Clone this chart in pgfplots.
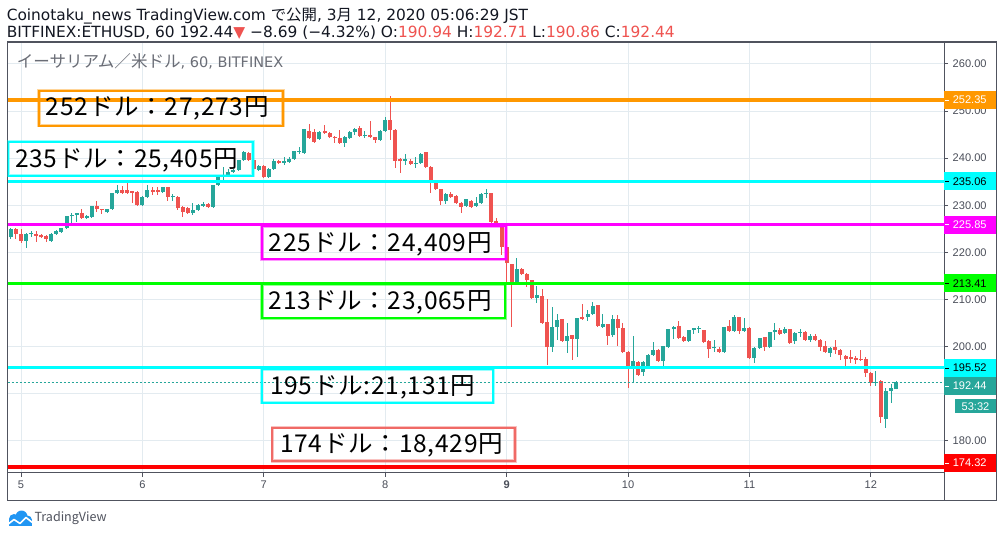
\documentclass[border=0pt]{standalone}
\usepackage{fontspec}
\setmainfont{Noto Sans CJK JP}
\newfontfamily\lab{Liberation Sans}
\newfontfamily\dv{DejaVu Sans}
\newfontfamily\jp{Noto Sans CJK JP}
\newfontfamily\bxf[LetterSpace=3]{Noto Sans CJK JP}
\usepackage{pgfplots}
\usepackage{pgfplotstable}
\pgfplotsset{compat=1.18}

\definecolor{upc}{HTML}{26A69A}
\definecolor{dnc}{HTML}{EF5350}
\definecolor{gridc}{HTML}{E3EBF0}
\definecolor{axc}{HTML}{50535E}
\definecolor{tickc}{HTML}{4A4E59}
\definecolor{txt}{HTML}{131722}
\definecolor{orng}{HTML}{FF9800}
\definecolor{cyn}{HTML}{00FFFF}
\definecolor{mgn}{HTML}{FF00FF}
\definecolor{lim}{HTML}{00FF00}
\definecolor{rd}{HTML}{FF0000}
\definecolor{salmon}{HTML}{F06A66}
\definecolor{tvblue}{HTML}{2196F3}

% hourly candles, t = hours after Mar 5 00:00
\pgfplotstableread{
t o hi lo c
-2 223.2 225.1 222.9 224.9
-1 224.9 225.1 222.9 224.0
0 224.0 224.9 222.0 222.4
1 222.4 224.2 221.0 224.0
2 224.0 224.5 223.3 224.1
3 223.9 224.5 222.1 223.5
4 223.6 223.9 223.0 223.2
5 223.4 223.6 222.3 222.8
6 222.4 224.1 222.3 224.0
7 224.0 224.7 223.9 224.6
8 224.4 225.2 224.3 225.1
9 225.1 227.8 225.0 227.7
10 227.7 228.3 226.2 227.8
11 227.9 228.4 226.5 228.3
12 228.4 229.3 227.3 227.4
13 227.4 227.9 227.0 227.7
14 227.6 229.9 227.5 229.8
15 229.8 231.0 228.5 229.2
16 229.2 229.3 228.1 229.0
17 228.5 229.3 228.4 229.2
18 229.2 232.6 229.1 232.5
19 232.5 234.3 232.4 233.2
20 233.2 234.0 232.6 232.7
21 233.2 235.2 232.5 232.6
22 233.0 233.1 230.4 232.7
23 232.9 233.0 230.0 230.1
24 230.1 231.9 230.0 231.8
25 231.8 234.3 231.7 233.2
26 233.2 233.8 232.2 232.9
27 233.2 233.8 232.2 232.9
28 232.9 233.9 232.8 233.8
29 233.8 233.9 230.8 231.8
30 231.7 232.4 230.8 231.8
31 231.7 231.9 229.1 229.4
32 229.6 229.8 227.6 228.6
33 229.4 229.6 228.3 228.4
34 228.4 230.4 227.9 229.1
35 229.1 230.2 229.0 230.0
36 229.9 230.6 229.6 230.3
37 230.3 230.5 229.4 229.7
38 229.7 234.4 229.5 234.3
39 234.3 236.2 234.1 236.1
40 235.9 238.2 235.4 236.4
41 236.4 237.8 236.2 237.1
42 237.1 237.6 236.8 237.5
43 237.5 239.7 237.3 239.6
44 239.6 241.5 239.4 241.4
45 241.2 241.4 239.4 239.6
46 239.6 239.8 237.5 237.6
47 237.5 238.5 237.3 238.3
48 238.3 238.5 235.7 235.9
49 236.0 238.0 235.8 237.8
50 237.8 239.8 237.6 239.4
51 239.4 239.6 238.8 239.0
52 239.0 240.3 238.6 239.3
53 239.1 240.3 238.9 239.9
54 239.9 241.6 239.8 241.5
55 241.3 242.4 240.9 241.5
56 241.1 246.2 240.9 246.1
57 245.8 247.2 244.0 244.2
58 245.6 246.1 243.2 243.5
59 244.0 245.7 243.8 245.6
60 245.8 247.1 245.2 245.3
61 245.3 245.6 244.2 244.4
62 244.6 244.8 243.2 244.4
63 244.2 246.0 243.2 243.3
64 243.3 244.7 242.4 244.6
65 244.2 245.7 244.0 245.6
66 245.6 246.4 244.9 246.3
67 246.5 246.8 244.6 244.8
68 244.8 245.8 244.2 245.0
69 244.9 247.9 244.3 244.4
70 244.4 244.5 243.3 243.9
71 243.9 245.9 243.8 245.8
72 245.8 248.7 245.6 248.1
73 248.1 253.1 243.9 246.0
74 246.0 246.2 238.0 239.5
75 239.8 240.0 236.9 239.3
76 239.5 240.9 238.5 239.9
77 239.5 239.8 238.6 238.8
78 238.8 240.2 238.0 239.0
79 238.9 241.0 238.7 240.9
80 241.3 241.4 238.0 238.2
81 238.2 238.4 232.7 234.7
82 234.9 235.2 233.2 233.4
83 233.4 233.5 230.0 230.8
84 230.8 232.5 230.2 232.4
85 232.3 232.9 231.7 231.8
86 232.0 232.1 230.3 230.4
87 230.4 230.6 228.3 229.7
88 229.8 231.4 229.6 231.3
89 230.9 231.1 229.4 229.7
90 229.8 231.8 229.7 230.4
91 230.4 232.5 230.2 232.4
92 232.3 233.4 231.5 232.5
93 232.5 232.6 226.3 226.5
94 226.7 227.2 225.4 226.0
95 225.5 226.2 219.4 221.1
96 221.1 221.2 213.8 217.7
97 217.5 217.6 204.2 213.2
98 213.2 218.7 213.0 216.5
99 216.5 216.6 215.2 215.4
100 215.5 215.6 212.7 214.1
101 214.1 214.2 210.3 210.4
102 210.4 212.8 209.2 210.9
103 210.7 212.3 204.9 205.1
104 205.2 210.2 196.1 200.0
105 200.0 208.3 198.9 204.2
106 204.2 207.0 201.4 205.6
107 205.8 205.9 201.0 201.2
108 201.2 204.9 198.7 202.3
109 202.4 202.5 197.1 201.7
110 201.7 206.1 197.7 206.0
111 206.2 209.0 205.6 205.8
112 206.2 207.7 205.5 207.0
113 207.0 209.5 206.9 208.6
114 208.8 208.9 204.3 204.4
115 204.2 207.0 204.0 204.8
116 204.7 204.8 200.3 202.3
117 202.4 206.7 202.1 205.8
118 205.8 206.7 200.2 203.9
119 204.0 205.1 198.8 198.9
120 198.9 199.0 191.1 195.7
121 195.7 202.2 192.3 196.9
122 196.8 197.0 193.8 194.0
123 194.5 196.9 193.8 196.8
124 195.7 198.4 195.6 198.3
125 198.3 201.0 198.2 199.3
126 199.3 199.4 196.8 196.9
127 196.9 200.2 195.7 200.1
128 200.0 203.8 199.9 203.7
129 203.7 204.3 201.5 204.2
130 204.3 205.4 201.8 201.9
131 202.1 202.2 201.1 201.2
132 201.2 203.6 201.1 203.5
133 203.5 203.9 202.6 203.9
134 203.8 204.4 202.9 203.9
135 203.5 203.6 200.9 201.0
136 201.2 201.3 197.5 199.4
137 199.6 201.4 198.8 199.8
138 199.4 200.0 198.7 198.8
139 198.8 204.2 198.7 204.1
140 204.3 205.6 203.3 203.4
141 203.4 206.8 203.3 206.2
142 206.2 206.3 202.6 203.3
143 203.3 206.0 203.2 204.0
144 204.0 204.1 197.4 197.5
145 197.5 199.8 196.6 199.7
146 199.7 201.9 199.6 201.9
147 202.0 202.1 199.0 200.0
148 199.8 203.1 199.7 203.0
149 203.0 204.9 201.4 203.5
150 203.6 204.0 202.4 202.7
151 202.9 204.1 202.8 203.7
152 203.7 203.8 200.5 200.8
153 201.2 203.0 200.5 202.9
154 202.9 203.7 202.1 203.1
155 203.0 203.2 201.3 201.4
156 201.4 202.7 200.9 202.2
157 202.2 202.7 201.3 201.4
158 201.4 201.5 199.1 200.0
159 200.1 201.2 198.7 198.8
160 198.7 199.9 197.8 199.6
161 199.8 201.4 198.4 199.3
162 199.3 199.4 197.1 198.1
163 198.0 198.1 195.7 197.3
164 197.8 199.3 196.4 197.4
165 197.6 198.0 196.3 197.1
166 197.3 199.3 197.0 197.1
167 197.3 197.7 193.6 194.4
168 194.4 194.5 191.6 192.3
169 192.3 194.7 191.6 192.5
170 192.7 192.8 183.8 185.0
171 184.7 191.1 182.8 190.6
172 190.6 192.0 188.1 191.1
173 190.9 192.7 190.9 192.4
}\candles

\newcommand\tagfont{\lab\fontsize{8.3pt}{10pt}\selectfont}
\newcommand\boxfont{\bxf\fontsize{18.4pt}{20pt}\selectfont}
\newcommand\hdf{\fontsize{11.55pt}{13pt}\selectfont}

\begin{document}
\begin{tikzpicture}
\useasboundingbox[fill=white] (0,0) rectangle (751.5pt,402.75pt);

\begin{axis}[
    at={(5.25pt,48.375pt)}, anchor=south west,
    scale only axis, width=702.75pt, height=322.875pt,
    xmin=-2.77, xmax=182.47, ymin=173.25, ymax=264.67,
    axis line style={draw=axc, line width=0.75pt},
    xtick={0,24,...,168},
    xticklabels={5,6,7,8,\textbf{9},10,11,12},
    ytick={180,200,210,220,230,240,250,260},
    extra y ticks={190}, extra y tick labels={},
    extra tick style={grid=major},
    yticklabel={\pgfmathprintnumber[fixed,fixed zerofill,precision=2,assume math mode=true]{\tick}},
    xtick pos=left, ytick pos=right, yticklabel pos=right,
    tick align=outside, major tick length=3pt,
    tick style={draw=axc, line width=0.75pt},
    tick label style={font=\tagfont, text=tickc},
    grid=major, major grid style={draw=gridc, line width=0.75pt},
]
% wicks
\addplot[draw=none, mark=none, forget plot,
    restrict expr to domain={\thisrow{c}-\thisrow{o}}{0:100},
    error bars/.cd, y dir=both, y explicit, error mark=none,
    error bar style={draw=upc, line width=0.75pt}]
  table[x=t, y=o, y error plus expr=\thisrow{hi}-\thisrow{o},
        y error minus expr=\thisrow{o}-\thisrow{lo}] {\candles};
\addplot[draw=none, mark=none, forget plot,
    restrict expr to domain={\thisrow{o}-\thisrow{c}}{0.0001:100},
    error bars/.cd, y dir=both, y explicit, error mark=none,
    error bar style={draw=dnc, line width=0.75pt}]
  table[x=t, y=c, y error plus expr=\thisrow{hi}-\thisrow{c},
        y error minus expr=\thisrow{c}-\thisrow{lo}] {\candles};
% bodies
\addplot[draw=none, mark=none, forget plot,
    restrict expr to domain={\thisrow{c}-\thisrow{o}}{0:100},
    error bars/.cd, y dir=plus, y explicit, error mark=none,
    error bar style={draw=upc, line width=3pt}]
  table[x=t, y=o, y error plus expr={max(\thisrow{c}-\thisrow{o},0.2)}] {\candles};
\addplot[draw=none, mark=none, forget plot,
    restrict expr to domain={\thisrow{o}-\thisrow{c}}{0.0001:100},
    error bars/.cd, y dir=plus, y explicit, error mark=none,
    error bar style={draw=dnc, line width=3pt}]
  table[x=t, y=c, y error plus expr={max(\thisrow{o}-\thisrow{c},0.2)}] {\candles};

% horizontal levels
\addplot[orng, line width=2.6pt] coordinates {(-5,252.35) (190,252.35)};
\addplot[cyn, line width=2.6pt] coordinates {(-5,235.06) (190,235.06)};
\addplot[mgn, line width=2.4pt] coordinates {(-5,225.85) (190,225.85)};
\addplot[lim, line width=2.6pt] coordinates {(-5,213.41) (190,213.41)};
\addplot[cyn, line width=1.9pt] coordinates {(-5,195.52) (190,195.52)};
\addplot[rd, line width=3pt] coordinates {(-5,174.32) (190,174.32)};
\addplot[upc, line width=0.75pt, dash pattern=on 1.5pt off 1.5pt] coordinates {(-5,192.44) (190,192.44)};
\end{axis}

% overlay in pixel coordinates (origin top left)
\begin{scope}[x=0.75pt, y=-0.75pt, shift={(0pt,402.75pt)}]
  \draw[axc, line width=0.75pt] (7,42) rectangle (996,500);
  \draw[axc, line width=0.75pt] (944,42) -- (944,500);

  % header
  \node[anchor=base west, inner sep=0pt, text=txt, font=\hdf]
    at (6.5,20.7) {\dv Coinotaku\_news TradingView.com {\jp で公開}, 3{\jp 月} 12, 2020 05:06:29 JST};
  \node[anchor=base west, inner sep=0pt, text=txt, font=\hdf]
    at (6.5,37.3) {\dv BITFINEX:ETHUSD, 60 192.44\textcolor{dnc}{▼} −8.69 (−4.32\%) O:\textcolor{dnc}{190.94} H:\textcolor{dnc}{192.71} L:\textcolor{dnc}{190.86} C:\textcolor{dnc}{192.44}};
  \node[anchor=base west, inner sep=0pt, text=axc!85, font=\fontsize{10.9pt}{13pt}\selectfont]
    at (16.5,67.7) {{\jp\fontsize{12.4pt}{14pt}\selectfont イーサリアム／米ドル}\dv, 60, BITFINEX};

  % annotation boxes
  \foreach \xa/\ya/\xb/\yb/\col in {39/90.7/283/125.7/orng, 8.5/141.7/253/175.7/cyn,
      262/226/506/259.3/mgn, 262/284.5/505.3/318.3/lim, 261.7/369.3/493.3/402.7/cyn,
      272.3/427.7/515/461/salmon}{
    \draw[\col, opacity=0.4, line width=2.6pt] (\xa,\ya) rectangle (\xb,\yb);
    \draw[\col, line width=1.3pt] (\xa,\ya) rectangle (\xb,\yb);
  }
  \node[anchor=base west, inner sep=0pt, font=\boxfont] at (45.7,115.7) {252ドル：27,273円};
  \node[anchor=base west, inner sep=0pt, font=\boxfont] at (15,167.3) {235ドル：25,405円};
  \node[anchor=base west, inner sep=0pt, font=\boxfont] at (268.7,251.3) {225ドル：24,409円};
  \node[anchor=base west, inner sep=0pt, font=\boxfont] at (268.7,309.5) {213ドル：23,065円};
  \node[anchor=base west, inner sep=0pt, font=\boxfont] at (270,394.3) {195ドル:21,131円};
  \node[anchor=base west, inner sep=0pt, font=\boxfont] at (280,452.7) {174ドル：18,429円};

  % price tags on the scale
  \foreach \yc/\bg/\fg/\lbl in {100/orng/white/252.35, 181.4/cyn/black/235.06,
      224.8/mgn/white/225.85, 283.4/lim/black/213.41, 368/cyn/black/195.52,
      386/upc/white/192.44, 463/rd/white/174.32}{
    \fill[\bg] (944,\yc-9) rectangle (996,\yc+9);
    \draw[\fg, line width=0.75pt] (945,\yc) -- (949,\yc);
    \node[anchor=west, inner sep=0pt, text=\fg, font=\tagfont] at (952.5,\yc) {\lbl};
  }
  \fill[upc] (955,399.3) rectangle (996,413.3);
  \node[text=white, inner sep=0pt, font=\tagfont] at (975.5,406.3) {53:32};

  % logo
  \fill[tvblue] (14,519) circle (5) (21.5,516.5) circle (6) (27.5,520) circle (4.5);
  \fill[tvblue] (9,519) rectangle (31.5,525.5);
  \draw[white, line width=1.2pt, line join=round] (7,525) -- (14,519.5) -- (20,523.5) -- (26,517.5) -- (33,523);
  \node[anchor=base west, inner sep=0pt, text=axc, font=\fontsize{9.4pt}{11pt}\selectfont]
    at (34.3,521.8) {TradingView};
\end{scope}
\end{tikzpicture}
\end{document}
